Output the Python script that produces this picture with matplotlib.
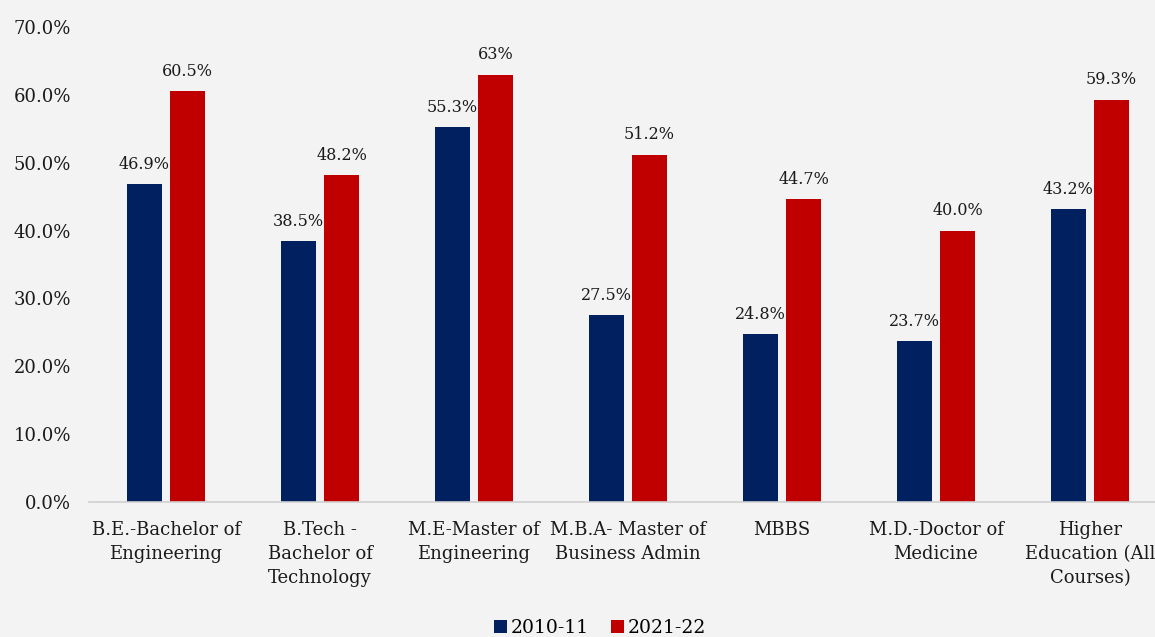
import matplotlib
matplotlib.use("Agg")
import matplotlib.pyplot as plt
import numpy as np
from matplotlib.ticker import FuncFormatter

categories = ["B.E.-Bachelor of\nEngineering", "B.Tech -\nBachelor of\nTechnology",
              "M.E-Master of\nEngineering", "M.B.A- Master of\nBusiness Admin",
              "MBBS", "M.D.-Doctor of\nMedicine", "Higher\nEducation (All\nCourses)"]
series_names = ["2010-11", "2021-22"]
values_2010 = [46.9, 38.5, 55.3, 27.5, 24.8, 23.7, 43.2]
values_2021 = [60.5, 48.2, 63.0, 51.2, 44.7, 40.0, 59.3]
labels_2010 = ["46.9%", "38.5%", "55.3%", "27.5%", "24.8%", "23.7%", "43.2%"]
labels_2021 = ["60.5%", "48.2%", "63%", "51.2%", "44.7%", "40.0%", "59.3%"]
yticks = [0, 10, 20, 30, 40, 50, 60, 70]

plt.rcParams['font.family'] = ['DejaVu Serif']
BLUE = "#002060"
RED = "#C00000"
BG = "#f3f3f3"

fig = plt.figure(figsize=(11.55, 6.37), dpi=100, facecolor=BG)
ax = fig.add_axes([89/1155, 135/637, 1078/1155, 475/637])
ax.set_facecolor(BG)

x = np.arange(len(categories))
w = 0.227
off = 0.14
b1 = ax.bar(x - off, values_2010, w, color=BLUE, label=series_names[0])
b2 = ax.bar(x + off, values_2021, w, color=RED, label=series_names[1])

for bars, labs in ((b1, labels_2010), (b2, labels_2021)):
    for rect, lab in zip(bars, labs):
        ax.annotate(lab, (rect.get_x() + rect.get_width()/2, rect.get_height()),
                    xytext=(0, 8), textcoords="offset points", ha="center", va="bottom",
                    fontsize=11.5, color="#1a1a1a")

ax.set_xlim(-0.5, len(categories) - 0.5)
ax.set_ylim(0, 70)
ax.set_yticks(yticks)
ax.yaxis.set_major_formatter(FuncFormatter(lambda v, p: f"{v:.1f}%"))
ax.set_xticks(x)
ax.set_xticklabels(categories, fontsize=13, linespacing=1.42)
ax.tick_params(axis='y', length=0, labelsize=13, pad=13, colors="#1a1a1a")
ax.tick_params(axis='x', length=0, pad=14, colors="#1a1a1a")
for s in ["top", "right", "left"]:
    ax.spines[s].set_visible(False)
ax.spines["bottom"].set_color("#d0d0d0")
ax.spines["bottom"].set_linewidth(1.2)

leg = fig.legend(handles=[b1, b2], labels=series_names, loc="center",
                 bbox_to_anchor=(600/1155, 1 - 628/637), ncol=2, frameon=False,
                 fontsize=13.5, handlelength=0.7, handleheight=0.7, handletextpad=0.2,
                 columnspacing=1.2)

fig.savefig("out.png", dpi=100, facecolor=BG)
